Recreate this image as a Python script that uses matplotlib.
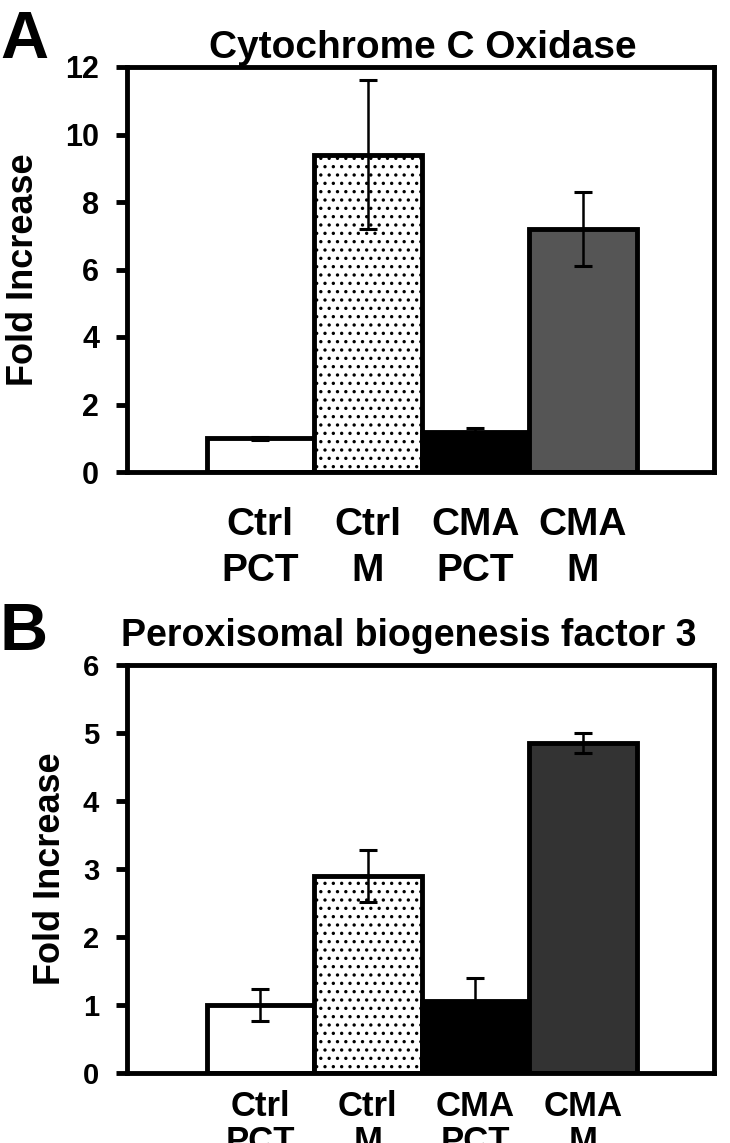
import matplotlib
matplotlib.use('Agg')
import matplotlib.pyplot as plt
from matplotlib import font_manager

# data
groups = ['Ctrl\nPCT', 'Ctrl\nM', 'CMA\nPCT', 'CMA\nM']
cox_vals = [1.0, 9.4, 1.2, 7.2]
cox_err = [0.05, 2.2, 0.1, 1.1]
pex_vals = [1.0, 2.9, 1.06, 4.85]
pex_err = [0.24, 0.38, 0.34, 0.15]

plt.rcParams['font.family'] = ['Liberation Sans', 'DejaVu Sans']
plt.rcParams['font.weight'] = 'bold'
plt.rcParams['hatch.linewidth'] = 1.2

names = {f.name for f in font_manager.fontManager.ttflist}
narrow = 'Liberation Sans Narrow' in names
cat_family = ['Liberation Sans Narrow', 'Liberation Sans'] if narrow else ['Liberation Sans']

W, H = 730, 1143
fig = plt.figure(figsize=(W / 100, H / 100), dpi=100)


def panel(ax, vals, errs, ymax, step, dark, title, title_x, title_y, title_size,
          tick_size, ylab_x, cat_size, cat_pad, cat_spacing):
    x = list(range(len(vals)))
    faces = ['white', 'white', 'black', dark]
    hatches = [None, '..', None, None]
    for xi, v, fc, h in zip(x, vals, faces, hatches):
        ax.bar(xi, v, width=1.0, color=fc, edgecolor='black', linewidth=3.5,
               hatch=h, zorder=2)
    ax.errorbar(x, vals, yerr=errs, fmt='none', ecolor='black', elinewidth=1.8,
                capsize=6.5, capthick=2.2, zorder=3)
    ax.set_xlim(-1.24, 4.22)
    ax.set_ylim(0, ymax)
    ax.set_yticks(range(0, ymax + 1, step))
    ax.tick_params(axis='y', direction='out', length=8, width=3.5,
                   labelsize=tick_size, pad=12)
    ax.set_xticks(x)
    ax.set_xticklabels(groups, family=cat_family, fontsize=cat_size,
                       linespacing=cat_spacing)
    ax.tick_params(axis='x', length=0, pad=cat_pad)
    for s in ax.spines.values():
        s.set_linewidth(3.5)
    ax.set_ylabel('Fold Increase', fontsize=26, fontweight='bold')
    ax.yaxis.set_label_coords(ylab_x, 0.5)
    ax.text(title_x, title_y, title, transform=ax.transAxes, ha='center',
            va='baseline', fontsize=title_size, fontweight='bold')


axA = fig.add_axes([127 / W, 1 - 472 / H, 587 / W, 405 / H])
panel(axA, cox_vals, cox_err, 12, 2, '#555555', 'Cytochrome C Oxidase',
      0.504, 1.022, 28, 22, -0.146, 30 if narrow else 28, 25, 1.35)

axB = fig.add_axes([127 / W, 1 - 1073 / H, 587 / W, 408 / H])
panel(axB, pex_vals, pex_err, 6, 1, '#333333', 'Peroxisomal biogenesis factor 3',
      0.48, 1.047, 27, 21, -0.101, 28 if narrow else 25, 12, 1.1)

fig.text(0.0, 1 - 58 / H, 'A', fontsize=48, fontweight='bold', va='baseline')
fig.text(0.0, 1 - 650 / H, 'B', fontsize=48, fontweight='bold', va='baseline')

fig.savefig('out.png', dpi=100)
